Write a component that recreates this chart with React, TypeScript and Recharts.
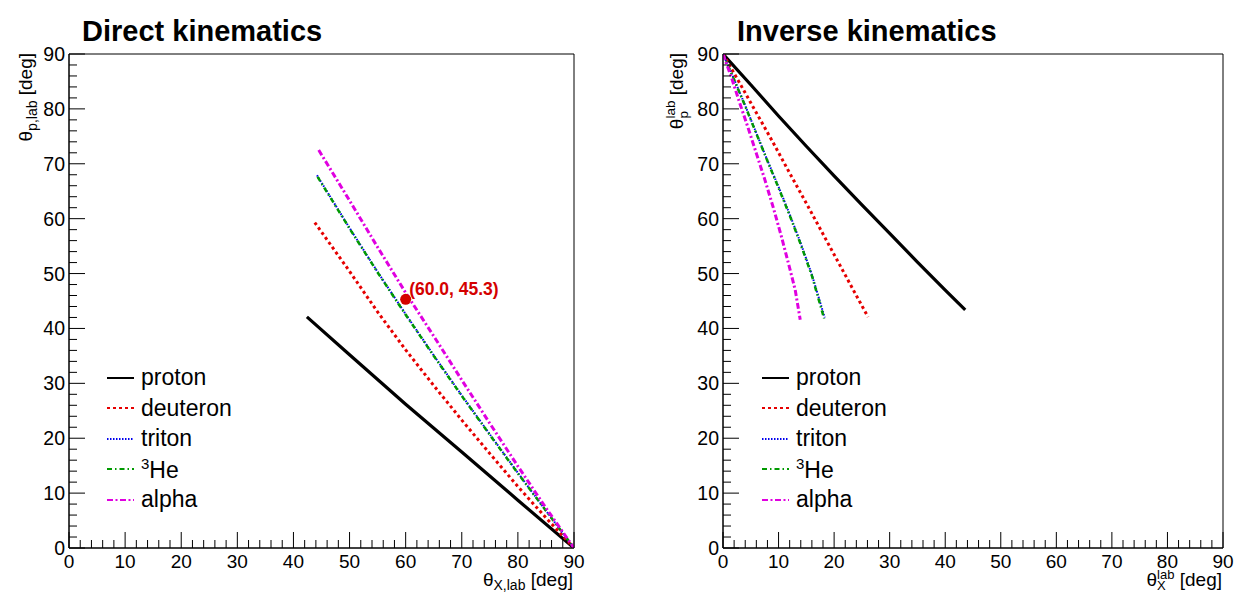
import React from "react";
import {
  LineChart,
  Line,
  XAxis,
  YAxis,
  Legend,
  ReferenceArea,
  ReferenceDot,
  Label,
} from "recharts";

const FONT = '"Liberation Sans", Arial, Helvetica, sans-serif';

// axis ticks (major every 10, minor every 2)
const angleTicks = [
  0, 2, 4, 6, 8, 10, 12, 14, 16, 18, 20, 22, 24, 26, 28, 30, 32, 34, 36, 38, 40,
  42, 44, 46, 48, 50, 52, 54, 56, 58, 60, 62, 64, 66, 68, 70, 72, 74, 76, 78, 80,
  82, 84, 86, 88, 90,
];

const seriesNames = ["proton", "deuteron", "triton", "3He", "alpha"];
const seriesColors = ["#000000", "#e60000", "#0000ee", "#009a00", "#e000e0"];
const seriesDash = ["", "3 3", "1.5 1.5", "5 3 1.5 3", "6 2.5 2 2.5"];
const seriesWidth = [3.2, 3, 2, 2.5, 3];

// direct kinematics: [theta_X lab, theta_p lab]
const directProton = [[42.4, 42.1], [50, 35.2], [60, 26.2], [70, 17.5], [80, 8.7], [90, 0]];
const directDeuteron = [[43.8, 59.3], [50, 50.4], [55, 43.0], [60, 36.1], [65, 29.6], [70, 23.3], [75, 17.2], [80, 11.2], [85, 5.5], [90, 0]];
const directTriton = [[44.2, 67.9], [50, 58.3], [55, 50.3], [60, 42.6], [65, 35.1], [70, 27.8], [75, 20.7], [80, 13.7], [85, 6.8], [90, 0]];
const directHe3 = [[44.3, 67.6], [50, 58.2], [55, 50.2], [60, 42.5], [65, 35.0], [70, 27.7], [75, 20.6], [80, 13.6], [85, 6.8], [90, 0]];
const directAlpha = [[44.5, 72.5], [50, 63.3], [55, 54.8], [60, 46.5], [65, 38.6], [70, 30.6], [75, 22.7], [80, 14.9], [85, 7.3], [90, 0]];

// inverse kinematics
const inverseProton = [[0, 90], [5, 84.4], [10, 78.7], [15, 73.2], [20, 67.8], [25, 62.5], [30, 57.3], [35, 52.1], [40, 47.0], [43.6, 43.4]];
const inverseDeuteron = [[0, 90], [3, 84.7], [6, 79.3], [9, 73.9], [12, 68.3], [15, 62.8], [18, 57.2], [21, 51.6], [24, 46.0], [26.1, 42.1]];
const inverseTriton = [[0, 90], [2, 85.4], [4, 80.6], [6, 75.6], [8, 70.6], [10, 65.8], [12, 60.8], [14, 55.5], [16, 49.8], [18.3, 42.0]];
const inverseHe3 = [[0, 90], [2, 85.3], [4, 80.5], [6, 75.5], [8, 70.5], [10, 65.6], [12, 60.6], [14, 55.3], [16, 49.6], [18.2, 41.8]];
const inverseAlpha = [[0, 90], [1.5, 85.8], [3, 81.1], [4.5, 76.6], [6, 71.9], [7.5, 67.2], [9, 62.2], [10.5, 56.8], [12, 51.0], [13, 47.0], [13.9, 41.6]];

// highlighted point
const dotX = 60.0;
const dotY = 45.3;

const toPoints = (pairs: number[][]) => pairs.map(([x, y]) => ({ x, y }));

const directSets = [directProton, directDeuteron, directTriton, directHe3, directAlpha];
const inverseSets = [inverseProton, inverseDeuteron, inverseTriton, inverseHe3, inverseAlpha];

const YTick = (props: any) => {
  const { x, y, payload } = props;
  const major = payload.value % 10 === 0;
  return (
    <g>
      <line x1={x} x2={x + (major ? 16 : 8)} y1={y} y2={y} stroke="#000" strokeWidth={1} />
      {major && (
        <text x={x - 4} y={y} dy={7} textAnchor="end" fontSize={19.5} fontFamily={FONT} fill="#000">
          {payload.value}
        </text>
      )}
    </g>
  );
};

const XTick = (props: any) => {
  const { x, y, payload } = props;
  const major = payload.value % 10 === 0;
  return (
    <g>
      <line x1={x} x2={x} y1={y} y2={y - (major ? 16 : 8)} stroke="#000" strokeWidth={1} />
      {major && (
        <text x={x} y={y + 20} textAnchor="middle" fontSize={19} fontFamily={FONT} fill="#000">
          {payload.value}
        </text>
      )}
    </g>
  );
};

const LegendBox = ({ payload }: any) => {
  const items = [...(payload || [])].sort(
    (a: any, b: any) => seriesNames.indexOf(a.value) - seriesNames.indexOf(b.value)
  );
  return (
    <div style={{ fontFamily: FONT, fontSize: 23, color: "#000" }}>
      {items.map((entry: any) => {
        const i = seriesNames.indexOf(entry.value);
        return (
          <div key={entry.value} style={{ display: "flex", alignItems: "center", height: 30.5 }}>
            <svg width={34} height={10}>
              <line
                x1={0}
                x2={27}
                y1={5}
                y2={5}
                stroke={seriesColors[i]}
                strokeWidth={2}
                strokeDasharray={seriesDash[i] || undefined}
              />
            </svg>
            <span style={{ lineHeight: 1 }}>
              {entry.value === "3He" ? (
                <>
                  <sup style={{ fontSize: 15 }}>3</sup>He
                </>
              ) : (
                entry.value
              )}
            </span>
          </div>
        );
      })}
    </div>
  );
};

const Panel = ({
  sets,
  left,
  width,
  right,
  title,
  titleX,
  inverse,
  legendLeft,
}: {
  sets: number[][][];
  left: number;
  width: number;
  right: number;
  title: string;
  titleX: number;
  inverse: boolean;
  legendLeft: number;
}) => (
  <div style={{ position: "absolute", left, top: 0, width, height: 594 }}>
    <div
      style={{
        position: "absolute",
        left: titleX - left,
        top: 14,
        fontFamily: FONT,
        fontWeight: "bold",
        fontSize: 29,
        lineHeight: "34px",
        color: "#000",
        whiteSpace: "nowrap",
      }}
    >
      {title}
    </div>
    <LineChart width={width} height={594} margin={{ top: 54, right, bottom: 0, left: 0 }}>
      <XAxis
        dataKey="x"
        type="number"
        domain={[0, 90]}
        ticks={angleTicks}
        interval={0}
        tickSize={0}
        tickMargin={0}
        tick={<XTick />}
        height={46}
        axisLine={{ stroke: "#000" }}
        allowDataOverflow
      >
        <Label
          content={(p: any) => {
            const vb = p.viewBox;
            const xe = vb.x + vb.width - 1;
            return inverse ? (
              <text x={xe} y={586} textAnchor="end" fontSize={19} fontFamily={FONT} fill="#000">
                θ
                <tspan dy={-7} fontSize={13}>lab</tspan>
                <tspan dx={-17.5} dy={11} fontSize={13}>X</tspan>
                <tspan dx={8.8} dy={-4}> [deg]</tspan>
              </text>
            ) : (
              <text x={xe} y={586} textAnchor="end" fontSize={19} fontFamily={FONT} fill="#000">
                θ
                <tspan dy={4} fontSize={14}>X,lab</tspan>
                <tspan dy={-4}> [deg]</tspan>
              </text>
            );
          }}
        />
      </XAxis>
      <YAxis
        type="number"
        domain={[0, 90]}
        ticks={angleTicks}
        interval={0}
        tickSize={0}
        tickMargin={0}
        tick={<YTick />}
        width={69}
        axisLine={{ stroke: "#000" }}
        allowDataOverflow
      >
        <Label
          content={(p: any) => {
            const vb = p.viewBox;
            const bx = vb.x + (inverse ? 29 : 32);
            const ty = vb.y - 1;
            return inverse ? (
              <text
                transform={`translate(${bx},${ty}) rotate(-90)`}
                textAnchor="end"
                fontSize={19}
                fontFamily={FONT}
                fill="#000"
              >
                θ
                <tspan dy={-8} fontSize={13.5}>lab</tspan>
                <tspan dx={-18} dy={13} fontSize={13.5}>p</tspan>
                <tspan dx={10.5} dy={-5}> [deg]</tspan>
              </text>
            ) : (
              <text
                transform={`translate(${bx},${ty}) rotate(-90)`}
                textAnchor="end"
                fontSize={19}
                fontFamily={FONT}
                fill="#000"
              >
                θ
                <tspan dy={5} fontSize={14}>p,lab</tspan>
                <tspan dy={-5}> [deg]</tspan>
              </text>
            );
          }}
        />
      </YAxis>
      <ReferenceArea x1={0} x2={90} y1={0} y2={90} fill="none" stroke="#000" strokeWidth={1} />
      {sets.map((set, i) => (
        <Line
          key={seriesNames[i]}
          name={seriesNames[i]}
          data={toPoints(set)}
          dataKey="y"
          type="linear"
          stroke={seriesColors[i]}
          strokeWidth={seriesWidth[i]}
          strokeDasharray={seriesDash[i] || undefined}
          dot={false}
          activeDot={false}
          isAnimationActive={false}
        />
      ))}
      {!inverse && (
        <ReferenceDot
          x={dotX}
          y={dotY}
          r={5.5}
          fill="#d40000"
          stroke="none"
          label={
            <Label
              content={(p: any) => {
                const vb = p.viewBox;
                const cx = vb.x + vb.width / 2;
                const cy = vb.y + vb.height / 2;
                return (
                  <text
                    x={cx + 3.5}
                    y={cy - 4}
                    fontSize={17.5}
                    fontWeight="bold"
                    fontFamily={FONT}
                    fill="#d40000"
                  >
                    {`(${dotX.toFixed(1)}, ${dotY.toFixed(1)})`}
                  </text>
                );
              }}
            />
          }
        />
      )}
      <Legend
        layout="vertical"
        align="center"
        verticalAlign="middle"
        content={<LegendBox />}
        wrapperStyle={{ left: legendLeft, top: 362.5, width: "auto", bottom: "auto" }}
      />
    </LineChart>
  </div>
);

export default function App() {
  return (
    <div
      style={{
        position: "absolute",
        left: 0,
        top: 0,
        width: 1235,
        height: 594,
        background: "#fff",
        overflow: "hidden",
      }}
    >
      <Panel
        sets={directSets}
        left={0}
        width={600}
        right={26}
        title="Direct kinematics"
        titleX={82}
        inverse={false}
        legendLeft={107}
      />
      <Panel
        sets={inverseSets}
        left={654}
        width={581}
        right={12}
        title="Inverse kinematics"
        titleX={737}
        inverse={true}
        legendLeft={762 - 654}
      />
    </div>
  );
}
